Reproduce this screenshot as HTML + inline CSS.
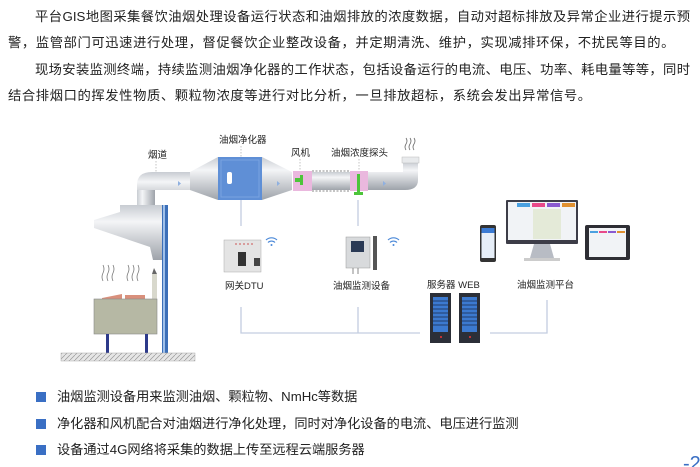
<!DOCTYPE html>
<html><head><meta charset="utf-8"><style>
body{margin:0;width:700px;height:467px;background:#fff;position:relative;overflow:hidden;font-family:"Liberation Sans","Noto Sans CJK SC",sans-serif;color:#222}
.p{position:absolute;left:8px;width:682px;font-size:13.3px;line-height:26.5px;white-space:nowrap;letter-spacing:0.6px}
.j{text-align:justify;text-align-last:justify;letter-spacing:0}
.b{position:absolute;left:36px;font-size:13.2px;color:#222}
.b i{display:inline-block;width:10px;height:10px;background:#3a6fc4;margin-right:11px;vertical-align:-1px}
svg{position:absolute;left:0;top:0}
</style></head><body>
<div class="p j" style="top:4px;left:35px;width:655px">平台GIS地图采集餐饮油烟处理设备运行状态和油烟排放的浓度数据，自动对超标排放及异常企业进行提示预</div>
<div class="p" style="top:30px">警，监管部门可迅速进行处理，督促餐饮企业整改设备，并定期清洗、维护，实现减排环保，不扰民等目的。</div>
<div class="p j" style="top:57px;left:35px;width:655px">现场安装监测终端，持续监测油烟净化器的工作状态，包括设备运行的电流、电压、功率、耗电量等等，同时</div>
<div class="p" style="top:83px">结合排烟口的挥发性物质、颗粒物浓度等进行对比分析，一旦排放超标，系统会发出异常信号。</div>
<svg width="700" height="467" viewBox="0 0 700 467" font-family="Liberation Sans,Noto Sans CJK SC,sans-serif" font-size="9.5" fill="#222">
<defs>
<linearGradient id="pipe" x1="0" y1="0" x2="0" y2="1"><stop offset="0" stop-color="#c8ccd2"/><stop offset=".3" stop-color="#f4f5f7"/><stop offset="1" stop-color="#9ea3aa"/></linearGradient>
<linearGradient id="pipev" x1="0" y1="0" x2="1" y2="0"><stop offset="0" stop-color="#c8ccd2"/><stop offset=".3" stop-color="#f4f5f7"/><stop offset="1" stop-color="#9ea3aa"/></linearGradient>
<pattern id="hatch" width="5" height="5" patternUnits="userSpaceOnUse"><rect width="5" height="5" fill="#e6e6e6"/><path d="M0 5L5 0" stroke="#999" stroke-width=".7"/></pattern>
</defs>
<path d="M137 205V185Q137 172 152 172H190V190H155V205Z" fill="url(#pipe)"/>
<rect x="137" y="190" width="18" height="15" fill="url(#pipev)"/>
<polygon points="190,172 218,157 218,200 190,190" fill="url(#pipe)"/>
<rect x="218" y="157" width="44" height="43" fill="#5f8fd6"/>
<rect x="221" y="160" width="38" height="37" fill="none" stroke="#7aa3e0"/>
<rect x="227" y="172" width="5" height="12" rx="2" fill="#fff"/>
<polygon points="262,157 292,172 292,190 262,200" fill="url(#pipe)"/>
<rect x="293" y="171" width="19" height="20" fill="#eab8de"/>
<rect x="295" y="178" width="8" height="4" fill="#4dc43a"/><rect x="300" y="175" width="3" height="10" fill="#4dc43a"/>
<rect x="312" y="172" width="38" height="18" fill="url(#pipe)"/>
<path d="M312 171h38M312 191h38" stroke="#888" stroke-dasharray="2 1.5"/>
<rect x="350" y="171" width="18" height="20" fill="#eab8de"/>
<rect x="357" y="174" width="3" height="20" fill="#4dc43a"/><rect x="354" y="192" width="9" height="3" fill="#4dc43a"/>
<path d="M368 172H403V162H418V180Q418 190 405 190H368Z" fill="url(#pipe)"/>
<rect x="402" y="157" width="17" height="6" fill="#e8eaec" stroke="#bbb" stroke-width=".5"/>
<path d="M178 181l3 2.5-3 2.5zM277 181l3 2.5-3 2.5zM383 181l3 2.5-3 2.5z" fill="#8fb0e0"/>
<path d="M406 150q-2-3 0-6t0-6M410 150q-2-3 0-6t0-6M414 150q-2-3 0-6t0-6" stroke="#666" fill="none" stroke-width=".8"/>
<polygon points="120,205 163,205 163,260 153,260 150,247 94,228 94,220 120,212" fill="url(#pipe)"/>
<rect x="162" y="205" width="6" height="148" fill="#3c6fb8"/><rect x="163" y="205" width="2" height="148" fill="#9fc0ea"/>
<path d="M103 281q-2-4 0-8t0-8M108 281q-2-4 0-8t0-8M113 281q-2-4 0-8t0-8M128 281q-2-4 0-8t0-8M133 281q-2-4 0-8t0-8M138 281q-2-4 0-8t0-8" stroke="#777" fill="none" stroke-width=".8"/>
<rect x="152" y="274" width="5" height="25" fill="#d8d8cc"/><polygon points="152,274 154,268 157,274" fill="#666"/>
<polygon points="102,298 122,294 122,299 102,299" fill="#d9907c"/><rect x="125" y="295" width="20" height="4" fill="#d9907c"/>
<rect x="94" y="299" width="63" height="35" fill="#b6b8a4" stroke="#888" stroke-width=".6"/>
<rect x="106" y="334" width="3" height="19" fill="#2d3a8a"/><rect x="145" y="334" width="3" height="19" fill="#2d3a8a"/>
<rect x="61" y="353" width="134" height="8" fill="url(#hatch)" stroke="#aaa" stroke-width=".5"/>
<text x="148" y="158">烟道</text>
<text x="219" y="143">油烟净化器</text>
<text x="291" y="156">风机</text>
<text x="331" y="156">油烟浓度探头</text>
<path d="M156 161v11M241 146v11M300 159v12M359 159v12" stroke="#aaa" stroke-dasharray="1.5 1.5" stroke-width=".7"/>
<path d="M241 200v26M358 200v26M241 307v26h179M358 307v26M547 300v33h-57" stroke="#c3cde0" stroke-width="1.3" fill="none"/>
<rect x="224" y="240" width="37" height="32" fill="#e4e4e4" stroke="#aaa" stroke-width=".5"/>
<rect x="238" y="252" width="8" height="14" fill="#333"/><rect x="254" y="258" width="6" height="8" fill="#444"/>
<path d="M235 244h20" stroke="#c55" stroke-dasharray="2 2"/>
<text x="225" y="289">网关DTU</text>
<rect x="346" y="237" width="24" height="31" fill="#d8dadc" stroke="#999" stroke-width=".5"/>
<rect x="351" y="241" width="13" height="11" fill="#2a3a55"/>
<rect x="373" y="236" width="4" height="34" fill="#555"/>
<path d="M353 268v6M358 268v6" stroke="#888"/>
<text x="333" y="289">油烟监测设备</text>
<g fill="none" stroke="#4a88d8" stroke-width="1.2"><path d="M266 240a8 8 0 0 1 11 0M268 242.5a5 5 0 0 1 7 0"/><path d="M388 240a8 8 0 0 1 11 0M390 242.5a5 5 0 0 1 7 0"/></g>
<circle cx="271.5" cy="245" r="1" fill="#4a88d8"/><circle cx="393.5" cy="245" r="1" fill="#4a88d8"/>
<text x="427" y="288">服务器 WEB</text>
<g><rect x="430" y="293" width="21" height="50" fill="#2b2f38"/><rect x="433" y="297" width="15" height="35" fill="#3c7ad0"/><path d="M433 301h15M433 305h15M433 309h15M433 313h15M433 317h15M433 321h15M433 325h15" stroke="#1a2a4a" stroke-width=".8"/><circle cx="441" cy="337" r="1" fill="#e33"/></g>
<g><rect x="459" y="293" width="21" height="50" fill="#2b2f38"/><rect x="462" y="297" width="15" height="35" fill="#3c7ad0"/><path d="M462 301h15M462 305h15M462 309h15M462 313h15M462 317h15M462 321h15M462 325h15" stroke="#1a2a4a" stroke-width=".8"/><circle cx="470" cy="337" r="1" fill="#e33"/></g>
<text x="517" y="288">油烟监测平台</text>
<rect x="480" y="225" width="16" height="37" rx="2" fill="#333"/><rect x="481.5" y="228" width="13" height="30" fill="#e6eef8"/><rect x="481.5" y="228" width="13" height="5" fill="#3b7bd4"/>
<rect x="506" y="200" width="72" height="44" rx="1" fill="#3d3d48"/><rect x="508" y="202" width="68" height="38" fill="#f1f3f6"/>
<rect x="517" y="203" width="13" height="4" fill="#4aa0e0"/><rect x="532" y="203" width="13" height="4" fill="#e84a8a"/><rect x="547" y="203" width="13" height="4" fill="#8a5ad0"/><rect x="562" y="203" width="13" height="4" fill="#e09030"/>
<rect x="533" y="209" width="28" height="30" fill="#e4ead8"/>
<polygon points="534,244 550,244 554,258 530,258" fill="#b8bcc4"/><rect x="524" y="258" width="36" height="3" fill="#ccc"/>
<rect x="585" y="225" width="45" height="35" rx="2" fill="#2e2e34"/><rect x="589" y="228" width="37" height="29" fill="#f1f3f6"/>
<rect x="590" y="231" width="8" height="2" fill="#4aa0e0"/><rect x="599" y="231" width="8" height="2" fill="#e84a8a"/><rect x="608" y="231" width="8" height="2" fill="#8a5ad0"/><rect x="617" y="231" width="8" height="2" fill="#e09030"/>
<text x="683" y="470" font-size="20" fill="#3a6fc4">-2</text>
</svg>
<div class="b" style="top:386px"><i></i>油烟监测设备用来监测油烟、颗粒物、NmHc等数据</div>
<div class="b" style="top:413px"><i></i>净化器和风机配合对油烟进行净化处理，同时对净化设备的电流、电压进行监测</div>
<div class="b" style="top:439px"><i></i>设备通过4G网络将采集的数据上传至远程云端服务器</div>
</body></html>
